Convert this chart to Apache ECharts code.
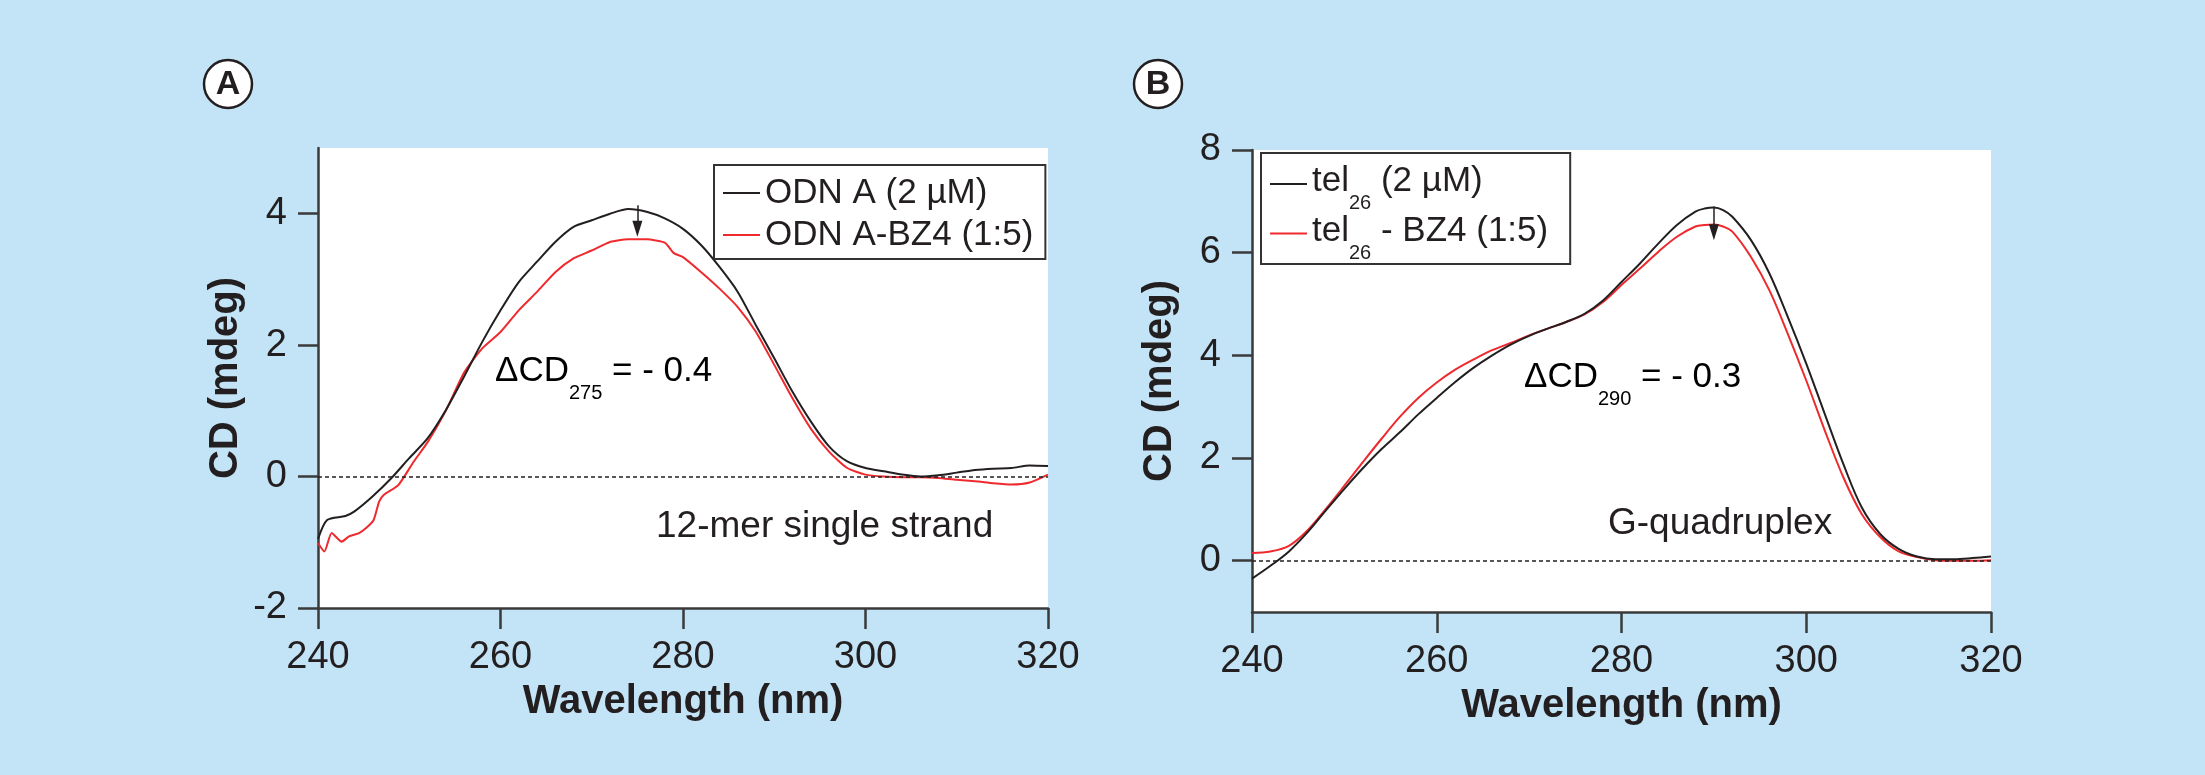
<!DOCTYPE html>
<html>
<head>
<meta charset="utf-8">
<script src="https://cdn.jsdelivr.net/npm/echarts@6/dist/echarts.min.js"></script>
<style>
html, body { margin: 0; padding: 0; background: #c3e4f6; }
#chart { width: 2205px; height: 775px; }
</style>
</head>
<body>
<div id="chart"></div>
<script>
// panel A - ODN A, 12-mer single strand
var wlOdnA = [240, 241, 243, 244, 246, 248, 250, 252, 254, 256, 258, 260, 262, 264, 266, 268, 270, 272, 274, 276, 278, 280,
  282, 284, 286, 288, 290, 292, 294, 296, 298, 300, 302, 304, 306, 308, 310, 312, 314, 316, 318, 320];
var cdOdnA = [-0.95, -0.66, -0.6, -0.53, -0.3, -0.03, 0.28, 0.58, 1.01, 1.52, 2.05, 2.53, 2.96, 3.27, 3.57, 3.8, 3.9, 4.0, 4.07, 4.03, 3.93, 3.77,
  3.52, 3.19, 2.81, 2.3, 1.8, 1.29, 0.84, 0.46, 0.23, 0.13, 0.08, 0.03, 0, 0.02, 0.06, 0.1, 0.12, 0.13, 0.17, 0.16];

var wlOdnABz4 = [240, 240.7, 241.5, 242.6, 243.4, 244.5, 245.3, 246.1, 246.7, 247.2, 248.8, 250.5, 252, 254, 256, 258, 260, 262, 264, 266, 268, 270,
  272, 274, 276, 278, 279, 280, 282, 284, 286, 288, 290, 292, 294, 296, 298, 300, 302, 304, 306, 308, 310, 312, 314, 316, 318, 320];
var cdOdnABz4 = [-1.01, -1.14, -0.86, -0.99, -0.91, -0.86, -0.78, -0.66, -0.38, -0.28, -0.13, 0.23, 0.52, 1.0, 1.58, 1.95, 2.2, 2.53, 2.81, 3.11, 3.32, 3.44,
  3.57, 3.61, 3.61, 3.56, 3.4, 3.34, 3.11, 2.86, 2.58, 2.2, 1.7, 1.19, 0.73, 0.38, 0.13, 0.03, 0, -0.01, -0.01, -0.02, -0.05, -0.07, -0.1, -0.12, -0.09, 0.03];

// panel B - tel26, G-quadruplex
var wlTel = [240, 242, 244, 246, 248, 250, 252, 254, 256, 258, 260, 262, 264, 266, 268, 270, 272, 274, 276, 278, 280, 282, 284, 286, 288,
  289, 290, 291, 292, 294, 296, 298, 300, 302, 304, 306, 308, 310, 312, 314, 316, 318, 320];
var cdTel = [-0.35, -0.1, 0.18, 0.55, 0.98, 1.4, 1.8, 2.17, 2.5, 2.85, 3.17, 3.48, 3.76, 4.0, 4.21, 4.38, 4.52, 4.65, 4.81, 5.07, 5.43, 5.79, 6.18, 6.54, 6.8,
  6.86, 6.88, 6.83, 6.7, 6.25, 5.6, 4.75, 3.84, 2.86, 1.89, 1.04, 0.52, 0.23, 0.08, 0.03, 0.03, 0.05, 0.08];
var cdTelBz4 = [0.15, 0.18, 0.29, 0.59, 1.01, 1.46, 1.92, 2.37, 2.8, 3.17, 3.47, 3.72, 3.92, 4.1, 4.24, 4.39, 4.52, 4.65, 4.8, 5.04, 5.37, 5.69, 6.02, 6.31, 6.51,
  6.54, 6.55, 6.51, 6.41, 5.92, 5.27, 4.42, 3.51, 2.54, 1.63, 0.91, 0.46, 0.18, 0.07, 0.01, 0, 0, 0.01];

var xTicks = [240, 260, 280, 300, 320];
var yTicksA = [-2, 0, 2, 4];
var yTicksB = [0, 2, 4, 6, 8];

var FONT = 'Liberation Sans, Arial, Helvetica, sans-serif';
var INK = '#231f20';
var AXIS = '#3a3a3a';
var RED = '#ee2a2e';

var pairs = function (xs, ys) {
  var out = [];
  for (var i = 0; i < xs.length; i++) {
    out.push([xs[i], ys[i]]);
  }
  return out;
};

var xAxisOf = function (idx) {
  return {
    type: 'value', gridIndex: idx, min: 240, max: 320, interval: 20,
    name: 'Wavelength (nm)', nameLocation: 'middle', nameGap: 72,
    nameTextStyle: { fontFamily: FONT, fontWeight: 'bold', fontSize: 40, color: INK },
    axisLine: { onZero: false, lineStyle: { color: AXIS, width: 2.5 } },
    axisTick: { length: 21, lineStyle: { color: AXIS, width: 2.5 }, customValues: xTicks },
    axisLabel: { margin: 31, fontFamily: FONT, fontSize: 38, color: INK, customValues: xTicks },
    splitLine: { show: false }
  };
};

var yAxisOf = function (idx, min, max, ticks) {
  return {
    type: 'value', gridIndex: idx, min: min, max: max,
    name: 'CD (mdeg)', nameLocation: 'middle', nameGap: 72,
    nameTextStyle: { fontFamily: FONT, fontWeight: 'bold', fontSize: 40, color: INK },
    axisLine: { show: true, onZero: false, lineStyle: { color: AXIS, width: 2.5 } },
    axisTick: { show: true, length: 20, lineStyle: { color: AXIS, width: 2.5 }, customValues: ticks },
    axisLabel: { margin: 31, fontFamily: FONT, fontSize: 38, color: INK, customValues: ticks },
    splitLine: { show: false }
  };
};

var zeroLine = {
  silent: true, symbol: 'none', label: { show: false },
  lineStyle: { type: [4, 3], color: INK, width: 1.5 },
  data: [{ yAxis: 0 }]
};

var arrowLine = function (x, yFrom, yTo) {
  return {
    silent: true, symbol: ['none', 'triangle'], symbolSize: [10, 16], label: { show: false },
    lineStyle: { type: 'solid', color: INK, width: 1.5 },
    itemStyle: { color: INK },
    data: [[{ coord: [x, yFrom] }, { coord: [x, yTo] }]]
  };
};

var richA = { fontFamily: FONT, fontSize: 35, lineHeight: 40, verticalAlign: 'top', color: INK };
var richSub = function (pad) {
  return { fontFamily: FONT, fontSize: 20, lineHeight: 20, verticalAlign: 'top', color: INK, padding: [pad, 0, 0, 0] };
};

var legendBase = {
  orient: 'vertical', icon: 'rect', itemWidth: 37, itemHeight: 2,
  borderColor: '#333', borderWidth: 2, backgroundColor: '#fff',
  selectedMode: false
};

var chart = echarts.init(document.getElementById('chart'));

var option = {
  backgroundColor: '#c3e4f6',
  animation: false,
  grid: [
    { left: 318, top: 148, width: 730, height: 460, show: true, backgroundColor: '#fff', borderWidth: 0 },
    { left: 1252, top: 150, width: 739, height: 462, show: true, backgroundColor: '#fff', borderWidth: 0 }
  ],
  xAxis: [xAxisOf(0), xAxisOf(1)],
  yAxis: [yAxisOf(0, -2, 5, yTicksA), yAxisOf(1, -1, 8, yTicksB)],
  legend: [
    Object.assign({}, legendBase, {
      left: 714, top: 165, padding: [8, 12, 4, 9], itemGap: 2,
      data: ['ODN A (2 µM)', 'ODN A-BZ4 (1:5)'],
      textStyle: { fontFamily: FONT, fontSize: 35, lineHeight: 40, color: INK }
    }),
    Object.assign({}, legendBase, {
      left: 1261, top: 153, padding: [11, 22, 1, 9], itemGap: 0,
      data: ['tel26 (2 µM)', 'tel26 - BZ4 (1:5)'],
      formatter: function (name) {
        return '{a|tel}{s|26}{a|' + name.slice(5) + '}';
      },
      textStyle: { rich: { a: richA, s: richSub(29.5) } }
    })
  ],
  series: [
    {
      name: 'ODN A (2 µM)', type: 'line', xAxisIndex: 0, yAxisIndex: 0,
      data: pairs(wlOdnA, cdOdnA), showSymbol: false, smooth: 0.25, color: INK,
      lineStyle: { width: 2, color: INK }, z: 3,
      markLine: zeroLine
    },
    {
      name: 'ODN A-BZ4 (1:5)', type: 'line', xAxisIndex: 0, yAxisIndex: 0,
      data: pairs(wlOdnABz4, cdOdnABz4), showSymbol: false, smooth: 0.2, color: RED,
      lineStyle: { width: 2, color: RED }, z: 2,
      markLine: arrowLine(275, 4.13, 3.77)
    },
    {
      name: 'tel26 (2 µM)', type: 'line', xAxisIndex: 1, yAxisIndex: 1,
      data: pairs(wlTel, cdTel), showSymbol: false, smooth: 0.35, color: INK,
      lineStyle: { width: 2, color: INK }, z: 3,
      markLine: zeroLine
    },
    {
      name: 'tel26 - BZ4 (1:5)', type: 'line', xAxisIndex: 1, yAxisIndex: 1,
      data: pairs(wlTel, cdTelBz4), showSymbol: false, smooth: 0.35, color: RED,
      lineStyle: { width: 2, color: RED }, z: 2,
      markLine: arrowLine(290, 6.9, 6.4)
    }
  ],
  graphic: [
    { type: 'circle', shape: { cx: 228, cy: 84, r: 24 }, style: { fill: '#fff', stroke: INK, lineWidth: 2.5 } },
    { type: 'text', x: 228, y: 85, style: { text: 'A', font: 'bold 34px ' + FONT, fill: INK, align: 'center', verticalAlign: 'middle' } },
    { type: 'circle', shape: { cx: 1158, cy: 84, r: 24 }, style: { fill: '#fff', stroke: INK, lineWidth: 2.5 } },
    { type: 'text', x: 1158, y: 85, style: { text: 'B', font: 'bold 34px ' + FONT, fill: INK, align: 'center', verticalAlign: 'middle' } },
    {
      type: 'text', x: 495, y: 354, z: 10,
      style: { text: '{a|ΔCD}{s|275}{a| = - 0.4}', rich: { a: richA, s: richSub(29.5) }, verticalAlign: 'top' }
    },
    {
      type: 'text', x: 1524, y: 360, z: 10,
      style: { text: '{a|ΔCD}{s|290}{a| = - 0.3}', rich: { a: richA, s: richSub(29) }, verticalAlign: 'top' }
    },
    { type: 'text', x: 656, y: 527, z: 10, style: { text: '12-mer single strand', font: '37px ' + FONT, fill: INK, verticalAlign: 'middle' } },
    { type: 'text', x: 1608, y: 524, z: 10, style: { text: 'G-quadruplex', font: '37px ' + FONT, fill: INK, verticalAlign: 'middle' } }
  ]
};

chart.setOption(option);

window.onresize = function () {
  chart.resize();
};
</script>
</body>
</html>
